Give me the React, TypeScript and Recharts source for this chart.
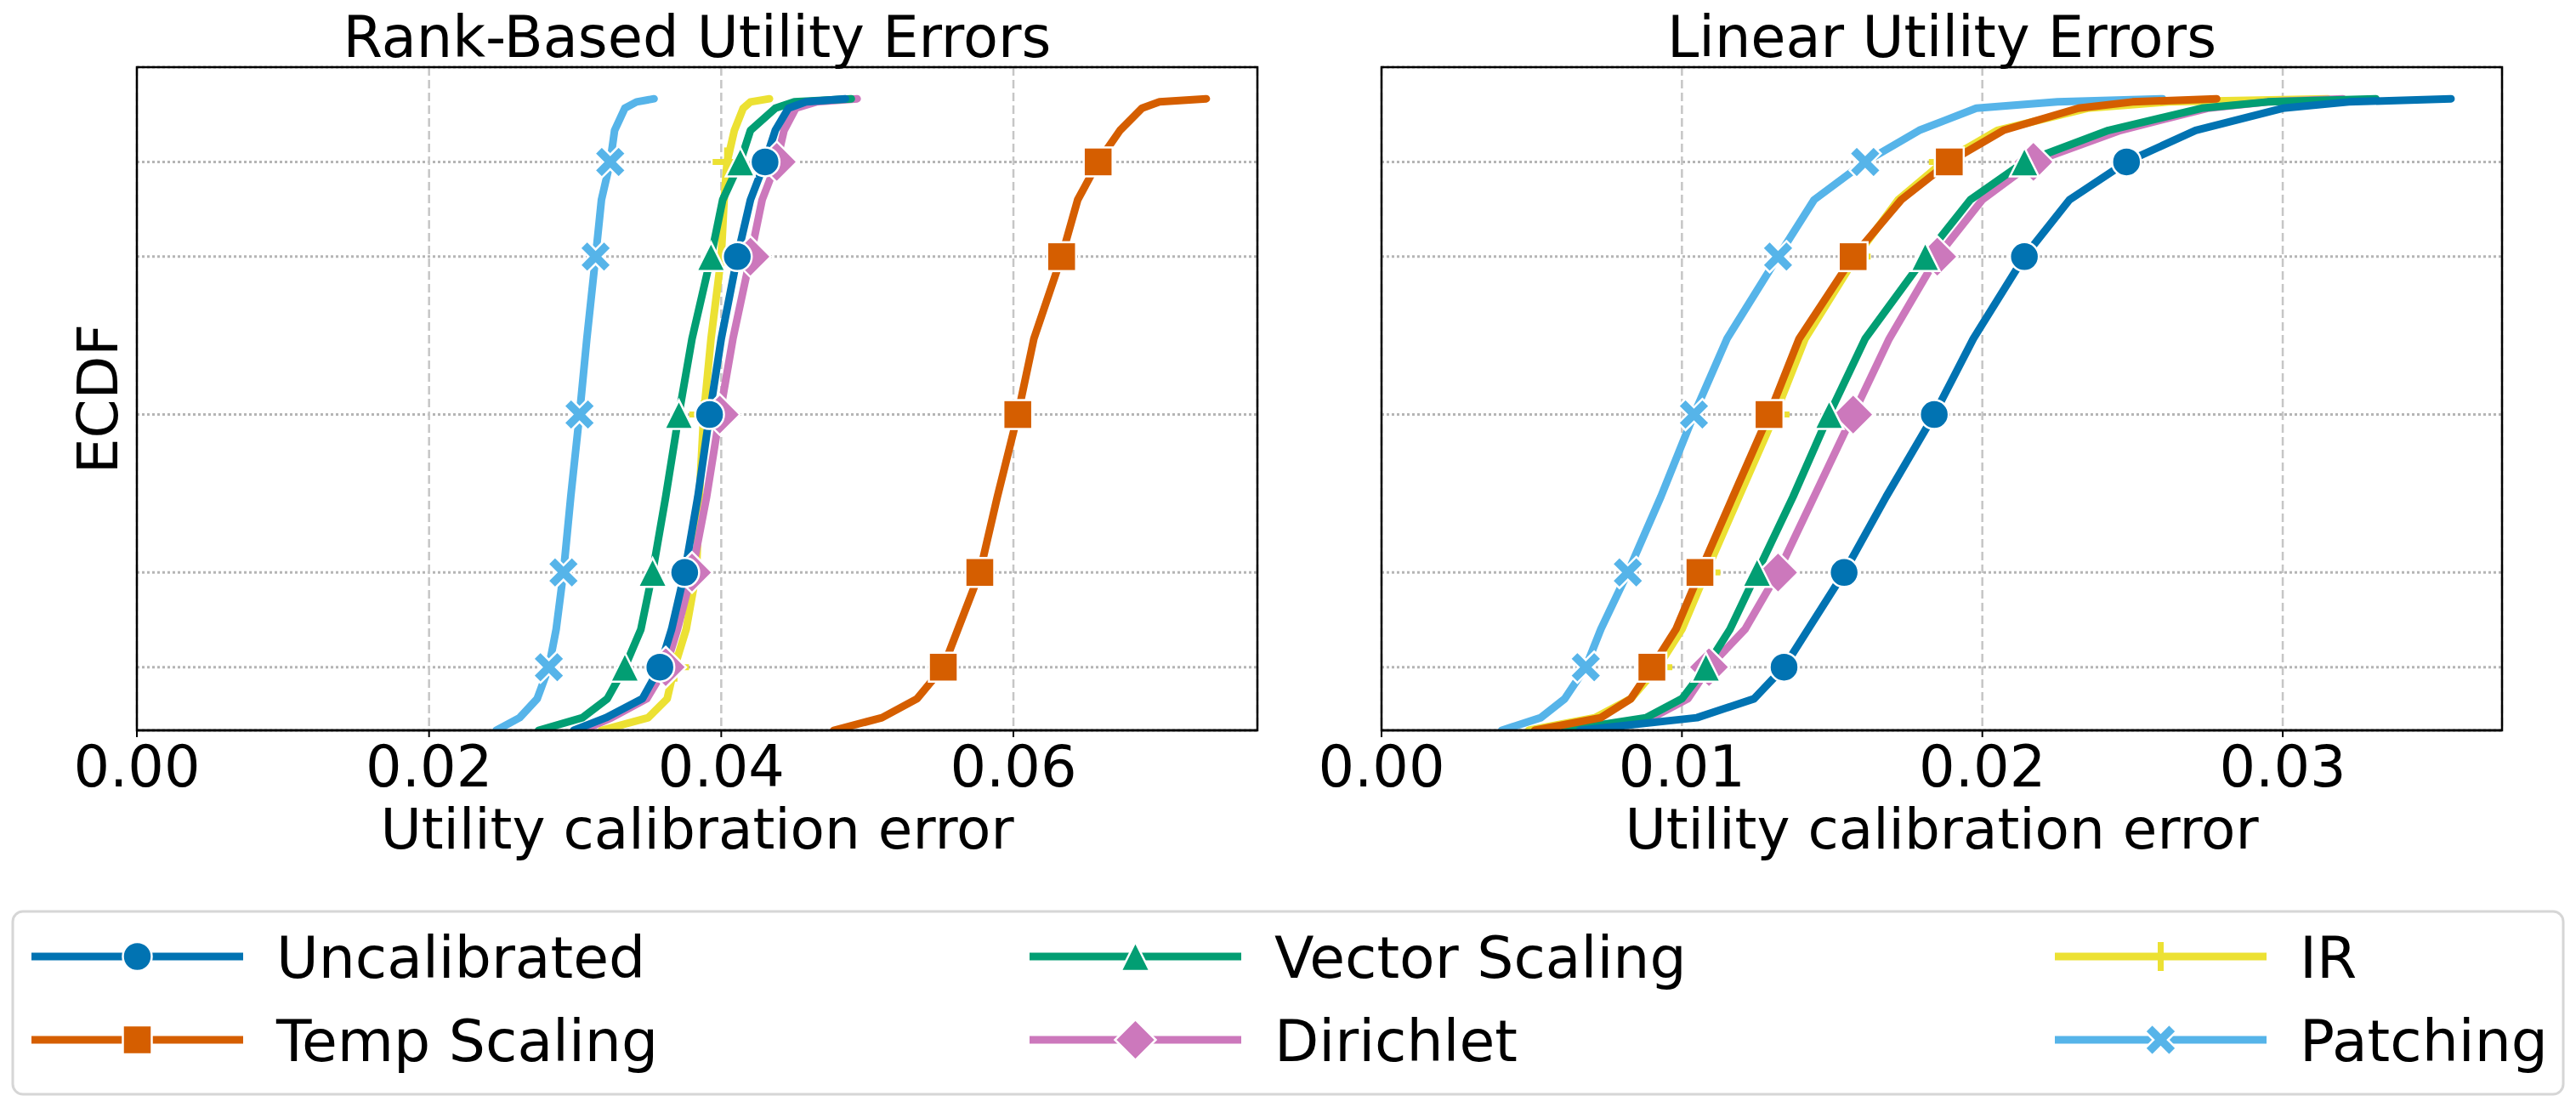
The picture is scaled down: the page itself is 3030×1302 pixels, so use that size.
import { LineChart, Line, XAxis, YAxis, CartesianGrid } from 'recharts';

const PROBS = [0, 0.02, 0.05, 0.1, 0.16, 0.25, 0.37, 0.5, 0.62, 0.75, 0.84, 0.9, 0.95, 0.985, 0.995, 1];
const MARK_PROBS = [0.1, 0.25, 0.5, 0.75, 0.9];

const METHODS = ['Uncalibrated', 'Temp Scaling', 'Vector Scaling', 'Dirichlet', 'IR', 'Patching'];
const COLORS = ['#0173B2', '#D55E00', '#029E73', '#CC78BC', '#ECE133', '#56B4E9'];
const MARKERS = ['circle', 'square', 'triangle', 'diamond', 'plus', 'x'];

// Rank-based utility errors (x value at each level of PROBS)
const rankUncalibrated = [0.0299, 0.0321, 0.0346, 0.0358, 0.0366, 0.0375, 0.0384, 0.0392, 0.04, 0.0411, 0.042, 0.043, 0.0437, 0.0446, 0.0458, 0.0485];
const rankTemp = [0.0477, 0.051, 0.0534, 0.0552, 0.0562, 0.0577, 0.0589, 0.0603, 0.0614, 0.0633, 0.0644, 0.0658, 0.0673, 0.0688, 0.07, 0.0732];
const rankVector = [0.0275, 0.0305, 0.0322, 0.0334, 0.0345, 0.0353, 0.0362, 0.0371, 0.038, 0.0393, 0.0401, 0.0413, 0.042, 0.0437, 0.045, 0.0489];
const rankDirichlet = [0.0305, 0.0325, 0.0349, 0.0362, 0.037, 0.038, 0.039, 0.0399, 0.0408, 0.042, 0.0428, 0.0438, 0.0443, 0.0451, 0.0465, 0.0493];
const rankIR = [0.0318, 0.035, 0.0363, 0.0368, 0.0376, 0.0383, 0.0385, 0.0388, 0.0393, 0.04, 0.0402, 0.0404, 0.0409, 0.0415, 0.042, 0.0433];
const rankPatching = [0.0246, 0.0262, 0.0274, 0.0282, 0.0287, 0.0292, 0.0297, 0.0303, 0.0308, 0.0314, 0.0318, 0.0324, 0.0327, 0.0334, 0.0342, 0.0354];

// Linear utility errors
const linUncalibrated = [0.0066, 0.0105, 0.0124, 0.0134, 0.0142, 0.0154, 0.0168, 0.0184, 0.0197, 0.0214, 0.0229, 0.0248, 0.0271, 0.03, 0.0322, 0.0356];
const linTemp = [0.0051, 0.0073, 0.0083, 0.009, 0.0098, 0.0106, 0.0117, 0.0129, 0.0139, 0.0157, 0.0173, 0.0189, 0.0207, 0.0232, 0.025, 0.0278];
const linVector = [0.0061, 0.0088, 0.01, 0.0108, 0.0116, 0.0125, 0.0137, 0.0149, 0.0161, 0.0181, 0.0196, 0.0214, 0.0242, 0.0273, 0.0295, 0.0331];
const linDirichlet = [0.0066, 0.009, 0.0102, 0.0109, 0.0121, 0.0132, 0.0144, 0.0157, 0.0169, 0.0185, 0.02, 0.0217, 0.0246, 0.0275, 0.0295, 0.032];
const linIR = [0.0049, 0.0071, 0.0083, 0.0092, 0.01, 0.0108, 0.0119, 0.0131, 0.0141, 0.0158, 0.0172, 0.0187, 0.0205, 0.0235, 0.0262, 0.0315];
const linPatching = [0.004, 0.0053, 0.0061, 0.0068, 0.0073, 0.0082, 0.0093, 0.0104, 0.0115, 0.0132, 0.0144, 0.0161, 0.0179, 0.0198, 0.0225, 0.026];

const RANK_SERIES = [rankUncalibrated, rankTemp, rankVector, rankDirichlet, rankIR, rankPatching];
const LIN_SERIES = [linUncalibrated, linTemp, linVector, linDirichlet, linIR, linPatching];

const RANK_TICKS = [0, 0.02, 0.04, 0.06];
const LIN_TICKS = [0, 0.01, 0.02, 0.03];
const Y_TICKS = [0.1, 0.25, 0.5, 0.75, 0.9];

const FONT = 'DejaVu Sans, Verdana, sans-serif';

const toPoints = (xs: number[]) =>
  xs.map((x, i) => ({ x, y: PROBS[i], mark: MARK_PROBS.includes(PROBS[i]) }));

const drawMarker = (kind: string, cx: number, cy: number, color: string, key?: string) => {
  const edge = { stroke: '#fff', strokeWidth: 2.5 };
  const s = 17;
  if (kind === 'circle') return <circle key={key} cx={cx} cy={cy} r={s} fill={color} {...edge} />;
  if (kind === 'square') return <rect key={key} x={cx - s} y={cy - s} width={2 * s} height={2 * s} fill={color} {...edge} />;
  if (kind === 'triangle')
    return <polygon key={key} points={`${cx},${cy - s} ${cx - s},${cy + s} ${cx + s},${cy + s}`} fill={color} {...edge} />;
  if (kind === 'diamond') {
    const d = 24;
    return <polygon key={key} points={`${cx},${cy - d} ${cx + d},${cy} ${cx},${cy + d} ${cx - d},${cy}`} fill={color} {...edge} />;
  }
  if (kind === 'plus')
    return (
      <g key={key}>
        <line x1={cx - s} x2={cx + s} y1={cy} y2={cy} stroke={color} strokeWidth={7} />
        <line x1={cx} x2={cx} y1={cy - s} y2={cy + s} stroke={color} strokeWidth={7} />
      </g>
    );
  // filled X
  const L = 20;
  const T = 6;
  const base = [
    [-T, -L], [T, -L], [T, -T], [L, -T], [L, T], [T, T],
    [T, L], [-T, L], [-T, T], [-L, T], [-L, -T], [-T, -T],
  ];
  const c = Math.SQRT1_2;
  const pts = base.map(([px, py]) => `${cx + (px - py) * c},${cy + (px + py) * c}`).join(' ');
  return <polygon key={key} points={pts} fill={color} {...edge} />;
};

const Panel = ({ left, xMax, ticks, series }: { left: number; xMax: number; ticks: number[]; series: number[][] }) => {
  const order = [5, 4, 3, 2, 1, 0]; // later methods sit underneath
  return (
    <div style={{ position: 'absolute', left, top: 0 }}>
      <LineChart width={1500} height={1000} margin={{ top: 79, right: 21, left: 161, bottom: 0 }}>
        <CartesianGrid vertical={false} stroke="#b5b5b5" strokeWidth={3} strokeDasharray="3 3" />
        <CartesianGrid horizontal={false} stroke="#c6c6c6" strokeWidth={2.5} strokeDasharray="10 5" />
        <XAxis
          type="number"
          dataKey="x"
          domain={[0, xMax]}
          ticks={ticks}
          allowDataOverflow
          height={141}
          tickSize={8}
          tickMargin={10}
          tickFormatter={(v: number) => v.toFixed(2)}
          axisLine={{ stroke: '#000', strokeWidth: 2.5 }}
          tickLine={{ stroke: '#000', strokeWidth: 2 }}
          tick={{ fontSize: 67, fill: '#000', fontFamily: FONT }}
        />
        <YAxis type="number" dataKey="y" domain={[0, 1.05]} ticks={Y_TICKS} allowDataOverflow hide />
        {order.map((i) => (
          <Line
            key={METHODS[i]}
            data={toPoints(series[i])}
            dataKey="y"
            name={METHODS[i]}
            type="linear"
            stroke={COLORS[i]}
            strokeWidth={9}
            strokeLinecap="round"
            strokeLinejoin="round"
            activeDot={false}
            isAnimationActive={false}
            dot={(p: any) =>
              p.payload && p.payload.mark
                ? drawMarker(MARKERS[i], p.cx, p.cy, COLORS[i], `m-${i}-${p.index}`)
                : <g key={`m-${i}-${p.index}`} />
            }
          />
        ))}
      </LineChart>
    </div>
  );
};

const LEGEND_COLS = [37, 1211, 2417];
const LEGEND_ROWS = [1125, 1223];

const App = () => {
  return (
    <div style={{ position: 'absolute', left: 0, top: 0, width: 3030, height: 1302, background: '#fff', fontFamily: FONT }}>
      <Panel left={0} xMax={0.0767} ticks={RANK_TICKS} series={RANK_SERIES} />
      <Panel left={1464} xMax={0.0373} ticks={LIN_TICKS} series={LIN_SERIES} />
      <svg width={3030} height={1302} style={{ position: 'absolute', left: 0, top: 0, pointerEvents: 'none' }}>
        <rect x={161} y={79} width={1318} height={780} fill="none" stroke="#000" strokeWidth={2.5} />
        <rect x={1625} y={79} width={1318} height={780} fill="none" stroke="#000" strokeWidth={2.5} />
        <g fontFamily={FONT} fill="#000">
          <text x={820} y={67} fontSize={67} textAnchor="middle">Rank-Based Utility Errors</text>
          <text x={2284} y={67} fontSize={67} textAnchor="middle">Linear Utility Errors</text>
          <text x={820} y={998} fontSize={66} textAnchor="middle">Utility calibration error</text>
          <text x={2284} y={998} fontSize={66} textAnchor="middle">Utility calibration error</text>
          <text x={138} y={469} fontSize={66} textAnchor="middle" transform="rotate(-90 138 469)">ECDF</text>
        </g>
        <rect x={15} y={1072} width={3000} height={215} rx={12} fill="#fff" stroke="#d6d6d6" strokeWidth={3} />
        {METHODS.map((m, i) => {
          const x0 = LEGEND_COLS[Math.floor(i / 2)];
          const y0 = LEGEND_ROWS[i % 2];
          return (
            <g key={m}>
              <line x1={x0} x2={x0 + 249} y1={y0} y2={y0} stroke={COLORS[i]} strokeWidth={9} />
              {drawMarker(MARKERS[i], x0 + 124.5, y0, COLORS[i])}
              <text x={x0 + 288} y={y0 + 25} fontSize={68} fontFamily={FONT} fill="#000">{m}</text>
            </g>
          );
        })}
      </svg>
    </div>
  );
};

export default App;
